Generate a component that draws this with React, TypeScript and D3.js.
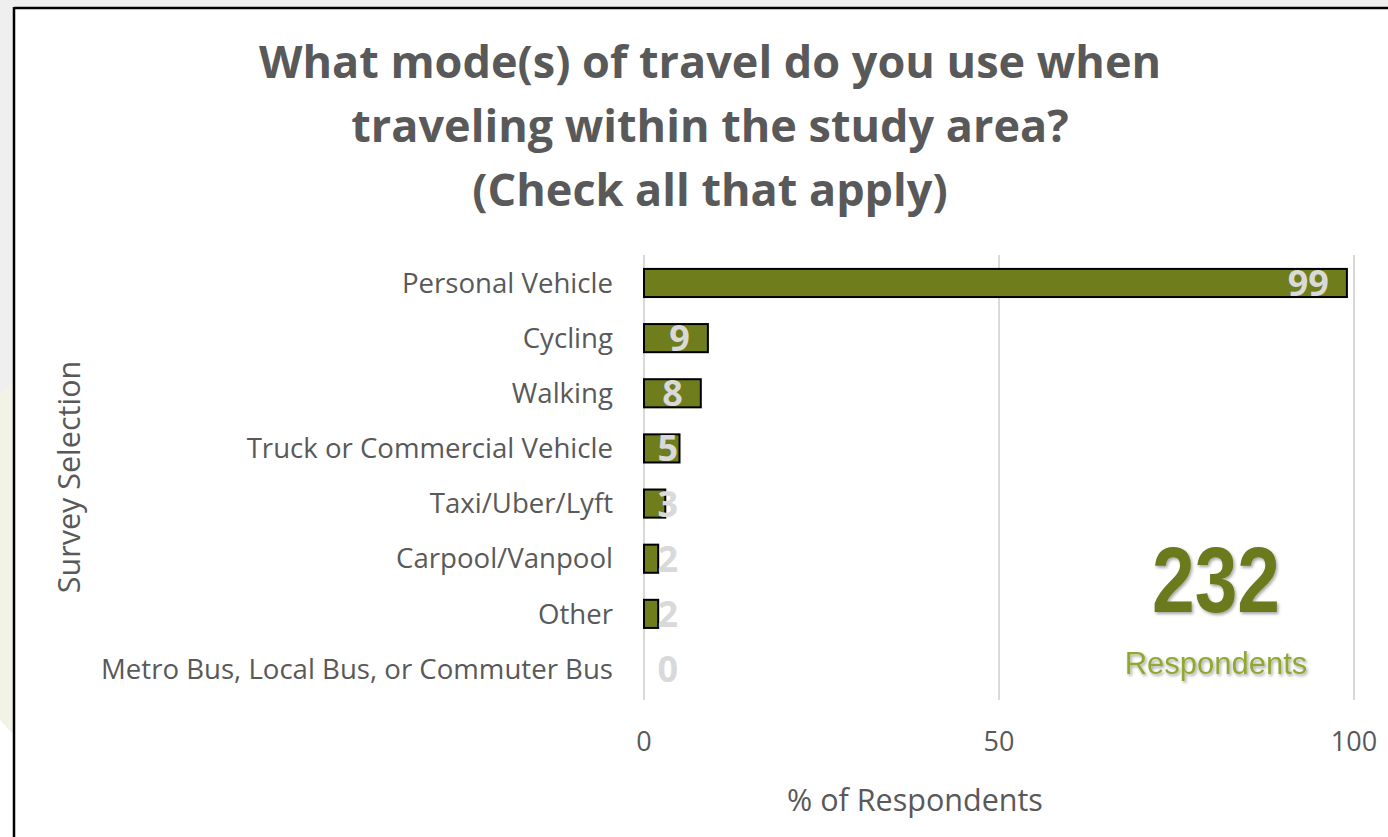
import React from "react";
import * as d3 from "d3";

// Survey answers, top to bottom
const categories = [
  "Personal Vehicle",
  "Cycling",
  "Walking",
  "Truck or Commercial Vehicle",
  "Taxi/Uber/Lyft",
  "Carpool/Vanpool",
  "Other",
  "Metro Bus, Local Bus, or Commuter Bus",
];
const values = [99, 9, 8, 5, 3, 2, 2, 0];
const xTicks = [0, 50, 100];
const titleLines = [
  "What mode(s) of travel do you use when",
  "traveling within the study area?",
  "(Check all that apply)",
];
const respondents = 232;

const W = 1388;
const H = 837;
const textColor = "#595959";
const barColor = "#6f7d1d";
const font = "'Open Sans', Lato, sans-serif";

const App: React.FC = () => {
  // scales
  const x = d3.scaleLinear().domain([0, 100]).range([644, 1354]);
  const y = d3
    .scaleBand<string>()
    .domain(categories)
    .range([255.4, 696.6])
    .paddingInner(0.49)
    .paddingOuter(0.245);

  return (
    <svg
      width={W}
      height={H}
      style={{ position: "absolute", left: 0, top: 0, background: "#fff" }}
    >
      <defs>
        <filter id="shadow" x="-10%" y="-10%" width="130%" height="130%">
          <feDropShadow dx="1.5" dy="2" stdDeviation="1.5" floodColor="#000" floodOpacity="0.35" />
        </filter>
      </defs>

      {/* page background outside the chart frame */}
      <rect x={0} y={0} width={W} height={7} fill="#efefef" />
      <rect x={0} y={0} width={14} height={H} fill="#efefef" />
      <path d="M0,395 L14,380 L14,735 L0,720 Z" fill="#f3f2e7" />
      <path d="M0,720 L14,735 L14,837 L0,837 Z" fill="#ffffff" />

      {/* frame */}
      <line x1={14} y1={8} x2={W} y2={8} stroke="#000" strokeWidth={2.5} />
      <line x1={14} y1={7} x2={14} y2={H} stroke="#000" strokeWidth={2.5} />

      {/* title */}
      <g fontFamily={font} fontWeight={700} fontSize={45} fill={textColor} textAnchor="middle">
        {titleLines.map((t, i) => (
          <text key={i} x={710} y={78 + i * 64}>
            {t}
          </text>
        ))}
      </g>

      {/* gridlines */}
      {xTicks.map((t) => (
        <line
          key={t}
          x1={x(t)}
          x2={x(t)}
          y1={255}
          y2={700}
          stroke="#d9d9d9"
          strokeWidth={2}
        />
      ))}

      {/* x tick labels */}
      {xTicks.map((t) => (
        <text
          key={"l" + t}
          x={x(t)}
          y={751}
          textAnchor="middle"
          fontFamily={font}
          fontSize={27}
          fill={textColor}
        >
          {t}
        </text>
      ))}

      {/* category labels */}
      {categories.map((c) => (
        <text
          key={c}
          x={613}
          y={(y(c) as number) + y.bandwidth() / 2}
          dy="0.35em"
          textAnchor="end"
          fontFamily={font}
          fontSize={27.6}
          fill={textColor}
        >
          {c}
        </text>
      ))}

      {/* bars */}
      {categories.map((c, i) =>
        values[i] > 0 ? (
          <rect
            key={"b" + c}
            x={x(0)}
            y={y(c)}
            width={x(values[i]) - x(0)}
            height={y.bandwidth()}
            fill={barColor}
            stroke="#000"
            strokeWidth={2}
          />
        ) : null
      )}

      {/* value labels */}
      {categories.map((c, i) => (
        <text
          key={"v" + c}
          x={Math.max(x(values[i]) - 18, x(0) + 34)}
          y={(y(c) as number) + y.bandwidth() / 2}
          dy="0.36em"
          textAnchor="end"
          fontFamily={font}
          fontWeight={700}
          fontSize={36}
          fill="#d9d9d9"
        >
          {values[i]}
        </text>
      ))}

      {/* axis titles */}
      <text
        x={915}
        y={811}
        textAnchor="middle"
        fontFamily={font}
        fontSize={30.5}
        fill={textColor}
      >
        % of Respondents
      </text>
      <text
        transform="translate(80,477) rotate(-90)"
        textAnchor="middle"
        fontFamily={font}
        fontSize={30.5}
        fill={textColor}
      >
        Survey Selection
      </text>

      {/* respondents callout */}
      <g filter="url(#shadow)" textAnchor="middle" fontFamily="'Liberation Sans', Arial, sans-serif">
        <text
          x={1216}
          y={612}
          fontSize={92}
          fontWeight={700}
          fill="#6b7a1e"
          textLength={128}
          lengthAdjust="spacingAndGlyphs"
        >
          {respondents}
        </text>
        <text x={1216} y={674} fontSize={31} fill="#8fa832">
          Respondents
        </text>
      </g>
    </svg>
  );
};

export default App;
